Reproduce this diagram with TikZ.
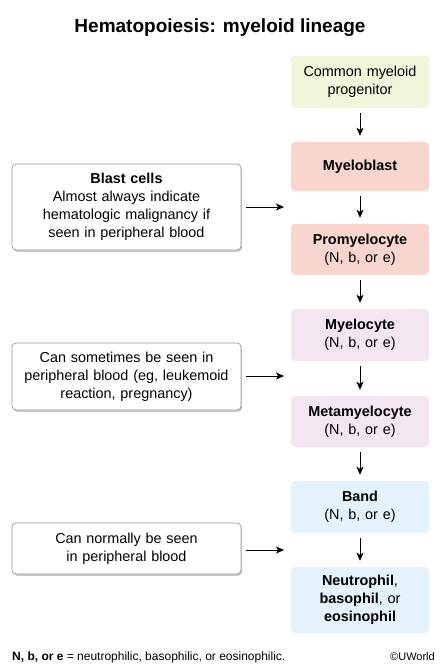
\documentclass[tikz,border=0pt]{standalone}
\usepackage{fontspec}
\setmainfont{Liberation Sans}
\usetikzlibrary{arrows.meta,shadows}
\definecolor{cgreen}{HTML}{F1F5DB}
\definecolor{cpink}{HTML}{F8D5CF}
\definecolor{clav}{HTML}{F4E6F0}
\definecolor{cblue}{HTML}{E3F2FC}
\definecolor{cborder}{HTML}{9A9A9A}
\begin{document}
\begin{tikzpicture}[x=1pt,y=-1pt,
  stage/.style={rounded corners=4pt,minimum width=138pt,minimum height=51pt,inner sep=0pt,
    align=center,text width=136pt,font=\fontsize{14.4}{18}\selectfont},
  note/.style={draw=cborder,line width=0.7pt,fill=white,rounded corners=4pt,minimum width=229pt,
    inner sep=0pt,align=center,text width=225pt,font=\fontsize{14.4}{18}\selectfont,
    drop shadow={shadow xshift=1.2pt,shadow yshift=-1.8pt,opacity=0.35,fill=black!60}},
  flow/.style={line width=1pt,-{Stealth[length=8pt,width=7pt,inset=2pt]}},
]
\useasboundingbox (0,0) rectangle (440,667);
\fill[white] (0,0) rectangle (440,667);
\node (title) at (220,28) {\fontsize{19}{22}\selectfont\bfseries Hematopoiesis: myeloid lineage};

\node[stage,fill=cgreen,minimum height=52pt] (b1) at (360,82) {Common myeloid\\progenitor};
\node[stage,fill=cpink,minimum height=49pt] (b2) at (360,166.5) {\textbf{Myeloblast}};
\node[stage,fill=cpink] (b3) at (360,249.5) {\textbf{Promyelocyte}\\(N, b, or e)};
\node[stage,fill=clav,minimum height=52pt] (b4) at (360,335) {\textbf{Myelocyte}\\(N, b, or e)};
\node[stage,fill=clav] (b5) at (360,421.5) {\textbf{Metamyelocyte}\\(N, b, or e)};
\node[stage,fill=cblue,minimum height=52pt] (b6) at (360,507) {\textbf{Band}\\(N, b, or e)};
\node[stage,fill=cblue,minimum height=66pt] (b7) at (360,600) {\textbf{Neutrophil}, \\\textbf{basophil}, or\\\textbf{eosinophil}};

\foreach \a/\b in {b1/b2,b2/b3,b3/b4,b4/b5,b5/b6,b6/b7}
  \draw[flow,shorten <=5pt,shorten >=6pt] (\a.south) -- (\b.north);

\node[note,minimum height=86pt] (l1) at (126.5,207) {\textbf{Blast cells}\\Almost always indicate\\hematologic malignancy if\\seen in peripheral blood};
\node[note,minimum height=67pt] (l2) at (126.5,376.5) {Can sometimes be seen in\\peripheral blood (eg, leukemoid\\reaction, pregnancy)};
\node[note,minimum height=51pt] (l3) at (126.5,548.5) {Can normally be seen\\in peripheral blood};

\coordinate (t1) at (284,207);
\coordinate (t2) at (284,376);
\coordinate (t3) at (284,550);
\draw[flow,shorten <=5pt] (l1.east) -- (t1);
\draw[flow,shorten <=5pt] (l2.east |- t2) -- (t2);
\draw[flow,shorten <=5pt] (l3.east |- t3) -- (t3);

\node[anchor=west,inner sep=0pt,font=\fontsize{12}{14}\selectfont] (fn) at (12,657) {\textbf{N, b, or e} = neutrophilic, basophilic, or eosinophilic.};
\node[anchor=east,inner sep=0pt,font=\fontsize{11}{13}\selectfont] (cr) at (435,657) {©UWorld};
\end{tikzpicture}
\end{document}
